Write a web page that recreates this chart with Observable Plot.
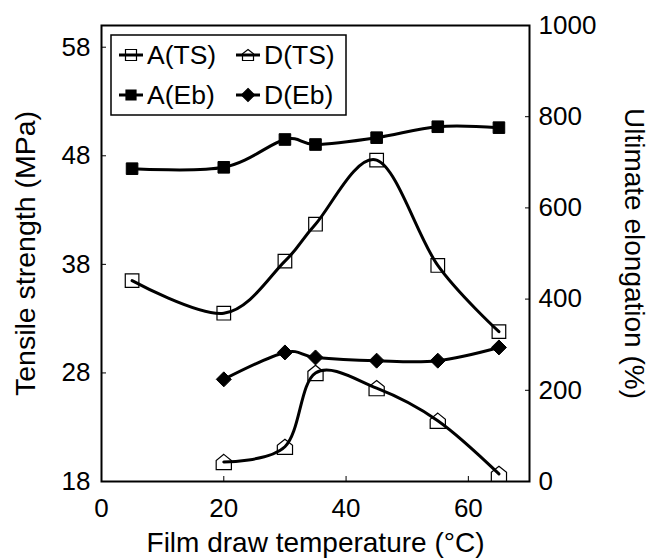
<!DOCTYPE html>
<html><head><meta charset="utf-8">
<script src="https://cdn.jsdelivr.net/npm/d3@7"></script>
<script src="https://cdn.jsdelivr.net/npm/@observablehq/plot@0.6"></script>
<style>body{margin:0;background:#fff;} #chart{width:650px;height:558px;}</style>
</head><body><div id="chart"></div>
<script>
// ---- data ----
const temperaturesA = [5, 20, 30, 35, 45, 55, 65];
const tensileA = [36.5, 33.5, 38.3, 41.7, 47.6, 37.9, 31.8];      // MPa, open squares
const elongationA = [686, 689, 750, 739, 754, 778, 776];          // %, filled squares
const temperaturesD = [20, 30, 35, 45, 55, 65];
const tensileD = [19.8, 21.2, 28.0, 26.6, 23.6, 18.7];            // MPa, open pentagons
const elongationD = [224, 283, 272, 265, 265, 294];               // %, filled diamonds
const xTicks = [0, 20, 40, 60];
const leftTicks = [18, 28, 38, 48, 58];
const rightTicks = [0, 200, 400, 600, 800, 1000];
const seriesNames = ["A(TS)", "D(TS)", "A(Eb)", "D(Eb)"];
const xLabel = "Film draw temperature (°C)";
const leftLabel = "Tensile strength (MPa)";
const rightLabel = "Ultimate elongation (%)";

const xDomain = [0, 70];
const leftDomain = [18, 60];
const rightDomain = [0, 1000];
const k = (leftDomain[1] - leftDomain[0]) / (rightDomain[1] - rightDomain[0]);
const toLeft = e => leftDomain[0] + (e - rightDomain[0]) * k;
const fromLeft = v => rightDomain[0] + (v - leftDomain[0]) / k;

const rows = (xs, ys, f = v => v) => xs.map((x, i) => ({x, y: f(ys[i])}));
const dataATS = rows(temperaturesA, tensileA);
const dataAEb = rows(temperaturesA, elongationA, toLeft);
const dataDTS = rows(temperaturesD, tensileD);
const dataDEb = rows(temperaturesD, elongationD, toLeft);

// custom symbols (size = PI * r^2)
const rOf = size => Math.sqrt(size / Math.PI);
const squareSym = {draw(c, size) { const r = rOf(size); c.moveTo(-r, -r); c.lineTo(r, -r); c.lineTo(r, r); c.lineTo(-r, r); c.closePath(); }};
const diamondSym = {draw(c, size) { const r = rOf(size); c.moveTo(0, -r); c.lineTo(r, 0); c.lineTo(0, r); c.lineTo(-r, 0); c.closePath(); }};
const houseSym = {draw(c, size) { const r = rOf(size); c.moveTo(0, -r); c.lineTo(r, -r * 0.2); c.lineTo(r, r); c.lineTo(-r, r); c.lineTo(-r, -r * 0.2); c.closePath(); }};

const font = "Arial, 'Liberation Sans', Helvetica, sans-serif";
const lineOpts = {x: "x", y: "y", curve: "cardinal", stroke: "black", strokeWidth: 3};

const plot = Plot.plot({
  width: 650, height: 558,
  marginLeft: 101, marginRight: 121, marginTop: 25, marginBottom: 77,
  style: {fontFamily: font, fontSize: "26px", color: "black", background: "white"},
  x: {domain: xDomain},
  y: {domain: leftDomain},
  marks: [
    Plot.axisX(xTicks, {tickSize: -5, tickPadding: 22, label: null, fontSize: 26}),
    Plot.axisY(leftTicks, {anchor: "left", tickSize: -5, tickPadding: 16, label: null, fontSize: 26}),
    Plot.axisY(rightTicks.map(toLeft), {anchor: "right", tickSize: -5, tickPadding: 14, label: null, fontSize: 26,
      tickFormat: v => String(Math.round(fromLeft(v)))}),
    Plot.frame({stroke: "black", strokeWidth: 2}),
    Plot.line(dataAEb, lineOpts),
    Plot.line(dataATS, lineOpts),
    Plot.line(dataDEb, lineOpts),
    Plot.line(dataDTS, lineOpts),
    Plot.dot(dataATS, {x: "x", y: "y", symbol: squareSym, r: 6.8, fill: "none", stroke: "black", strokeWidth: 1.2}),
    Plot.dot(dataAEb, {x: "x", y: "y", symbol: squareSym, r: 5.8, fill: "black", stroke: "black", strokeWidth: 1}),
    Plot.dot(dataDTS, {x: "x", y: "y", symbol: houseSym, r: 7.6, fill: "none", stroke: "black", strokeWidth: 1.2}),
    Plot.dot(dataDEb, {x: "x", y: "y", symbol: diamondSym, r: 7.5, fill: "black", stroke: "black", strokeWidth: 1}),
    Plot.text([leftLabel], {frameAnchor: "left", dx: -76, rotate: -90, fontSize: 28.5, textAnchor: "middle", lineAnchor: "middle"}),
    Plot.text([rightLabel], {frameAnchor: "right", dx: 104, rotate: 90, fontSize: 28, textAnchor: "middle", lineAnchor: "middle"}),
    Plot.text([xLabel], {frameAnchor: "bottom", dy: 62, fontSize: 28, textAnchor: "middle", lineAnchor: "middle"})
  ]
});
document.getElementById("chart").appendChild(plot);

// ---- legend (inside the plot frame, top-left) ----
const svg = d3.select(plot);
const lg = svg.append("g").attr("font-family", font).attr("font-size", 26.5).attr("text-anchor", "start");
lg.append("rect").attr("x", 111).attr("y", 35).attr("width", 235).attr("height", 80)
  .attr("fill", "white").attr("stroke", "black").attr("stroke-width", 1.5);
const legendItems = [
  {name: seriesNames[0], sym: squareSym, r: 5.5, fill: "none", x0: 119, x1: 143, tx: 147, y: 55},
  {name: seriesNames[1], sym: houseSym, r: 5.5, fill: "none", x0: 236, x1: 260, tx: 264, y: 55},
  {name: seriesNames[2], sym: squareSym, r: 5, fill: "black", x0: 119, x1: 143, tx: 147, y: 95},
  {name: seriesNames[3], sym: diamondSym, r: 6.5, fill: "black", x0: 236, x1: 260, tx: 264, y: 95}
];
for (const it of legendItems) {
  lg.append("line").attr("x1", it.x0).attr("x2", it.x1).attr("y1", it.y).attr("y2", it.y)
    .attr("stroke", "black").attr("stroke-width", 3);
  lg.append("path").attr("transform", `translate(${(it.x0 + it.x1) / 2},${it.y})`)
    .attr("d", d3.symbol(it.sym, Math.PI * it.r * it.r)())
    .attr("fill", it.fill).attr("stroke", "black").attr("stroke-width", 1.2);
  lg.append("text").attr("x", it.tx).attr("y", it.y).attr("dy", "0.35em").attr("text-anchor", "start").text(it.name);
}
</script>
</body></html>
